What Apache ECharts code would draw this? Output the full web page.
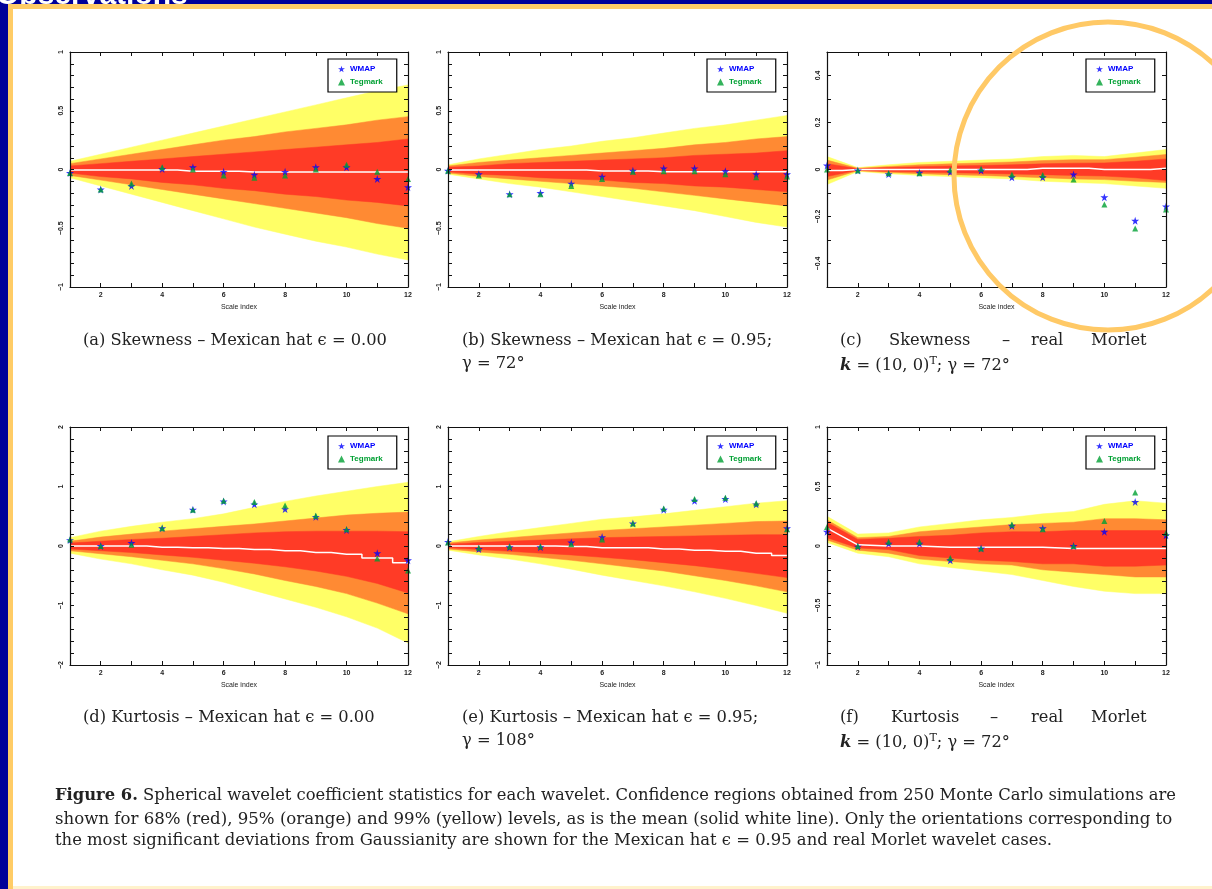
<!DOCTYPE html>
<html>
<head>
<meta charset="utf-8">
<title>Figure 6</title>
<script src="https://cdn.jsdelivr.net/npm/echarts@6/dist/echarts.min.js"></script>
<style>
  html, body { margin: 0; padding: 0; background: #000099; }
  #chart { width: 1212px; height: 889px; }
</style>
</head>
<body>
<div id="chart"></div>
<script>
// scale index (x axis of every panel)
const scaleIdx = [1, 2, 3, 4, 5, 6, 7, 8, 9, 10, 11, 12]

// (a) skewness - Mexican hat eps = 0.00
const aY99hi = [0.07, 0.13, 0.19, 0.25, 0.31, 0.37, 0.43, 0.49, 0.55, 0.61, 0.67, 0.72]
const aY99lo = [-0.07, -0.14, -0.21, -0.28, -0.35, -0.42, -0.49, -0.55, -0.61, -0.66, -0.72, -0.77]
const aO95hi = [0.05, 0.09, 0.13, 0.17, 0.21, 0.25, 0.28, 0.32, 0.35, 0.38, 0.42, 0.45]
const aO95lo = [-0.05, -0.09, -0.13, -0.17, -0.21, -0.25, -0.29, -0.33, -0.37, -0.41, -0.46, -0.5]
const aR68hi = [0.03, 0.05, 0.07, 0.09, 0.11, 0.13, 0.15, 0.17, 0.19, 0.21, 0.23, 0.26]
const aR68lo = [-0.03, -0.06, -0.08, -0.11, -0.13, -0.16, -0.18, -0.21, -0.23, -0.26, -0.28, -0.31]
const aMean = [-0.005, -0.005, -0.005, -0.005, -0.015, -0.015, -0.022, -0.022, -0.022, -0.022, -0.022, -0.022]
const aWmap = [-0.03, -0.17, -0.14, 0.005, 0.02, -0.02, -0.045, -0.02, 0.02, 0.02, -0.08, -0.15]
const aTeg = [-0.03, -0.17, -0.12, 0.02, 0.0, -0.05, -0.07, -0.05, 0.0, 0.04, -0.02, -0.08]

// (b) skewness - Mexican hat eps = 0.95, gamma = 72
const bY99hi = [0.04, 0.09, 0.13, 0.17, 0.2, 0.24, 0.27, 0.31, 0.35, 0.38, 0.42, 0.46]
const bY99lo = [-0.04, -0.08, -0.12, -0.15, -0.19, -0.23, -0.27, -0.31, -0.35, -0.4, -0.45, -0.49]
const bO95hi = [0.03, 0.06, 0.08, 0.1, 0.12, 0.14, 0.16, 0.18, 0.21, 0.23, 0.26, 0.28]
const bO95lo = [-0.03, -0.06, -0.08, -0.1, -0.12, -0.14, -0.16, -0.19, -0.22, -0.25, -0.28, -0.31]
const bR68hi = [0.02, 0.03, 0.05, 0.06, 0.07, 0.08, 0.09, 0.1, 0.12, 0.13, 0.14, 0.16]
const bR68lo = [-0.02, -0.04, -0.05, -0.07, -0.08, -0.09, -0.11, -0.12, -0.14, -0.15, -0.17, -0.19]
const bMean = [-0.005, -0.005, -0.005, -0.005, -0.005, -0.012, -0.012, -0.02, -0.02, -0.02, -0.02, -0.02]
const bWmap = [-0.01, -0.04, -0.21, -0.2, -0.12, -0.06, -0.01, 0.01, 0.01, -0.015, -0.04, -0.04]
const bTeg = [-0.01, -0.05, -0.21, -0.21, -0.14, -0.08, -0.02, -0.015, -0.015, -0.04, -0.065, -0.06]

// (c) skewness - real Morlet k = (10,0), gamma = 72
const cY99hi = [0.055, 0.008, 0.02, 0.03, 0.035, 0.04, 0.045, 0.055, 0.06, 0.055, 0.07, 0.085]
const cY99lo = [-0.064, -0.008, -0.018, -0.025, -0.03, -0.035, -0.04, -0.05, -0.055, -0.06, -0.07, -0.08]
const cO95hi = [0.04, 0.005, 0.013, 0.02, 0.024, 0.028, 0.032, 0.038, 0.042, 0.042, 0.052, 0.064]
const cO95lo = [-0.045, -0.005, -0.013, -0.018, -0.022, -0.025, -0.03, -0.035, -0.04, -0.043, -0.05, -0.055]
const cR68hi = [0.025, 0.003, 0.008, 0.012, 0.015, 0.017, 0.02, 0.024, 0.027, 0.028, 0.035, 0.045]
const cR68lo = [-0.03, -0.003, -0.008, -0.011, -0.014, -0.016, -0.019, -0.022, -0.025, -0.028, -0.035, -0.047]
const cMean = [-0.004, 0, 0, 0, 0, 0, 0, 0.005, 0.005, 0, 0, 0.005]
const cWmap = [0.017, -0.004, -0.02, -0.014, -0.011, -0.004, -0.033, -0.033, -0.021, -0.118, -0.218, -0.157]
const cTeg = [0.0, -0.004, -0.016, -0.016, -0.001, 0.003, -0.021, -0.023, -0.043, -0.149, -0.251, -0.17]

// (d) kurtosis - Mexican hat eps = 0.00
const dY99hi = [0.14, 0.25, 0.33, 0.4, 0.46, 0.54, 0.65, 0.75, 0.84, 0.92, 1.0, 1.07]
const dY99lo = [-0.12, -0.22, -0.3, -0.4, -0.49, -0.61, -0.75, -0.89, -1.03, -1.19, -1.38, -1.63]
const dO95hi = [0.08, 0.15, 0.2, 0.25, 0.29, 0.33, 0.37, 0.42, 0.47, 0.52, 0.55, 0.57]
const dO95lo = [-0.08, -0.13, -0.18, -0.24, -0.3, -0.38, -0.47, -0.58, -0.68, -0.8, -0.96, -1.14]
const dR68hi = [0.05, 0.08, 0.11, 0.13, 0.16, 0.19, 0.22, 0.24, 0.25, 0.25, 0.25, 0.24]
const dR68lo = [-0.05, -0.08, -0.11, -0.15, -0.19, -0.24, -0.29, -0.35, -0.42, -0.51, -0.63, -0.79]
const dMean = [0, 0, 0, -0.02, -0.03, -0.04, -0.06, -0.08, -0.11, -0.14, -0.2, -0.28]
const dWmap = [0.1, 0.0, 0.05, 0.3, 0.61, 0.75, 0.7, 0.62, 0.49, 0.27, -0.12, -0.24]
const dTeg = [0.11, 0.0, 0.02, 0.3, 0.61, 0.76, 0.74, 0.68, 0.51, 0.28, -0.21, -0.41]

// (e) kurtosis - Mexican hat eps = 0.95, gamma = 108
const eY99hi = [0.07, 0.16, 0.24, 0.31, 0.38, 0.45, 0.49, 0.54, 0.6, 0.66, 0.72, 0.76]
const eY99lo = [-0.07, -0.15, -0.22, -0.3, -0.39, -0.49, -0.58, -0.67, -0.77, -0.88, -1.0, -1.13]
const eO95hi = [0.05, 0.1, 0.14, 0.18, 0.22, 0.26, 0.29, 0.32, 0.35, 0.38, 0.41, 0.42]
const eO95lo = [-0.05, -0.1, -0.14, -0.19, -0.24, -0.3, -0.36, -0.42, -0.5, -0.58, -0.67, -0.77]
const eR68hi = [0.03, 0.06, 0.08, 0.1, 0.12, 0.14, 0.15, 0.16, 0.17, 0.18, 0.19, 0.19]
const eR68lo = [-0.03, -0.06, -0.09, -0.12, -0.15, -0.19, -0.23, -0.28, -0.33, -0.39, -0.46, -0.53]
const eMean = [0, 0, 0, 0, -0.01, -0.03, -0.03, -0.05, -0.07, -0.09, -0.12, -0.16]
const eWmap = [0.07, -0.05, -0.02, -0.02, 0.06, 0.15, 0.38, 0.61, 0.76, 0.79, 0.7, 0.3]
const eTeg = [0.06, -0.03, -0.01, -0.01, 0.03, 0.11, 0.38, 0.63, 0.79, 0.81, 0.72, 0.28]

// (f) kurtosis - real Morlet k = (10,0), gamma = 72
const fY99hi = [0.25, 0.1, 0.11, 0.16, 0.19, 0.22, 0.24, 0.27, 0.29, 0.35, 0.38, 0.36]
const fY99lo = [0.03, -0.06, -0.09, -0.15, -0.18, -0.21, -0.24, -0.29, -0.34, -0.38, -0.4, -0.4]
const fO95hi = [0.22, 0.07, 0.08, 0.12, 0.14, 0.16, 0.18, 0.19, 0.2, 0.23, 0.23, 0.22]
const fO95lo = [0.05, -0.035, -0.06, -0.11, -0.13, -0.15, -0.16, -0.2, -0.22, -0.24, -0.26, -0.26]
const fR68hi = [0.2, 0.055, 0.065, 0.08, 0.09, 0.11, 0.12, 0.12, 0.13, 0.13, 0.13, 0.13]
const fR68lo = [0.07, -0.017, -0.03, -0.08, -0.1, -0.12, -0.13, -0.15, -0.15, -0.17, -0.17, -0.16]
const fMean = [0.15, 0.01, 0.0, 0.0, -0.01, -0.01, -0.01, -0.01, -0.02, -0.02, -0.02, -0.02]
const fWmap = [0.12, -0.005, 0.02, 0.02, -0.12, -0.02, 0.17, 0.15, 0.0, 0.12, 0.37, 0.09]
const fTeg = [0.16, 0.0, 0.035, 0.035, -0.1, -0.02, 0.18, 0.14, 0.0, 0.21, 0.45, 0.11]

const panels = [
  { left: 70, top: 52, width: 338, height: 235, yMin: -1, yMax: 1, tick: 0.1, labelStep: 0.5, step: 'middle',
    bands: [[aY99lo, aY99hi], [aO95lo, aO95hi], [aR68lo, aR68hi]], mean: aMean, wmap: aWmap, teg: aTeg },
  { left: 448, top: 52, width: 339, height: 235, yMin: -1, yMax: 1, tick: 0.1, labelStep: 0.5, step: 'middle',
    bands: [[bY99lo, bY99hi], [bO95lo, bO95hi], [bR68lo, bR68hi]], mean: bMean, wmap: bWmap, teg: bTeg },
  { left: 827, top: 52, width: 339, height: 235, yMin: -0.5, yMax: 0.5, tick: 0.1, labelStep: 0.2, step: 'middle',
    bands: [[cY99lo, cY99hi], [cO95lo, cO95hi], [cR68lo, cR68hi]], mean: cMean, wmap: cWmap, teg: cTeg },
  { left: 70, top: 427, width: 338, height: 238, yMin: -2, yMax: 2, tick: 0.2, labelStep: 1, step: 'middle',
    bands: [[dY99lo, dY99hi], [dO95lo, dO95hi], [dR68lo, dR68hi]], mean: dMean, wmap: dWmap, teg: dTeg },
  { left: 448, top: 427, width: 339, height: 238, yMin: -2, yMax: 2, tick: 0.2, labelStep: 1, step: 'middle',
    bands: [[eY99lo, eY99hi], [eO95lo, eO95hi], [eR68lo, eR68hi]], mean: eMean, wmap: eWmap, teg: eTeg },
  { left: 827, top: 427, width: 339, height: 238, yMin: -1, yMax: 1, tick: 0.1, labelStep: 0.5, step: false,
    bands: [[fY99lo, fY99hi], [fO95lo, fO95hi], [fR68lo, fR68hi]], mean: fMean, wmap: fWmap, teg: fTeg }
]

const bandColors = ['#ffff66', '#ff8a33', '#ff3b26']
const starPath = 'path://M50,0 L61,35 L98,35 L68,57 L79,91 L50,70 L21,91 L32,57 L2,35 L39,35 Z'
const tickFont = { fontSize: 7, fontWeight: 'bold', color: '#222', fontFamily: 'Liberation Sans' }

const grid = []
const xAxis = []
const yAxis = []
const series = []
const legend = []

// one polygon per confidence band: upper edge forward, lower edge back
function bandSeries (xi, yi, lo, hi, color) {
  return {
    type: 'custom', xAxisIndex: xi, yAxisIndex: yi, silent: true, clip: true, z: 2,
    data: scaleIdx.map((x, j) => [x, lo[j], hi[j]]),
    encode: { x: 0, y: [1, 2] },
    renderItem: (params, api) => {
      if (params.dataIndex !== 0) return null
      const pts = []
      scaleIdx.forEach((x, j) => pts.push(api.coord([x, hi[j]])))
      for (let j = scaleIdx.length - 1; j >= 0; j--) pts.push(api.coord([scaleIdx[j], lo[j]]))
      return { type: 'polygon', shape: { points: pts }, style: { fill: color, stroke: color, lineWidth: 0.5 } }
    }
  }
}

panels.forEach((p, i) => {
  grid.push({ left: p.left, top: p.top, width: p.width, height: p.height })
  const ax = { gridIndex: i, type: 'value', min: 1, max: 12, interval: 1, z: 6,
    axisLine: { show: true, onZero: false, lineStyle: { color: '#111', width: 1.2 } },
    axisTick: { show: true, inside: true, length: 4, lineStyle: { color: '#111' } },
    splitLine: { show: false } }
  xAxis.push(Object.assign({}, ax, {
    position: 'bottom',
    name: 'Scale index', nameLocation: 'middle', nameGap: 17,
    nameTextStyle: { fontSize: 7, color: '#222', fontFamily: 'Liberation Sans' },
    axisLabel: Object.assign({ margin: 5, formatter: (v) => (v % 2 === 0 ? String(v) : '') }, tickFont)
  }))
  xAxis.push(Object.assign({}, ax, { position: 'top', axisLabel: { show: false } }))

  const ay = { gridIndex: i, type: 'value', min: p.yMin, max: p.yMax, interval: p.tick, z: 6,
    axisLine: { show: true, onZero: false, lineStyle: { color: '#111', width: 1.2 } },
    axisTick: { show: true, inside: true, length: 4, lineStyle: { color: '#111' } },
    splitLine: { show: false } }
  yAxis.push(Object.assign({}, ay, {
    position: 'left',
    axisLabel: Object.assign({
      rotate: 90, margin: 5,
      formatter: (v) => {
        const k = v / p.labelStep
        if (Math.abs(k - Math.round(k)) > 1e-6) return ''
        const r = Math.round(v * 10) / 10
        return r < 0 ? '\u2212' + String(-r) : String(r)
      }
    }, tickFont)
  }))
  yAxis.push(Object.assign({}, ay, { position: 'right', axisLabel: { show: false } }))

  const xi = i * 2
  const yi = i * 2
  p.bands.forEach((b, k) => series.push(bandSeries(xi, yi, b[0], b[1], bandColors[k])))
  series.push({
    type: 'line', xAxisIndex: xi, yAxisIndex: yi, step: p.step,
    data: scaleIdx.map((x, j) => [x, p.mean[j]]),
    showSymbol: false, silent: true, lineStyle: { color: '#ffffff', width: 1.5 }, z: 3
  })
  series.push({
    name: 'WMAP', type: 'scatter', xAxisIndex: xi, yAxisIndex: yi,
    data: scaleIdx.map((x, j) => [x, p.wmap[j]]),
    symbol: starPath, symbolSize: 8, itemStyle: { color: '#0000ff' }, z: 4
  })
  series.push({
    name: 'Tegmark', type: 'scatter', xAxisIndex: xi, yAxisIndex: yi,
    data: scaleIdx.map((x, j) => [x, p.teg[j]]),
    symbol: 'triangle', symbolSize: 6, itemStyle: { color: '#00a033' }, z: 5
  })

  legend.push({
    left: p.left + p.width - 80, top: p.top + 7 + (i >= 3 ? 2 : 0), z: 8,
    orient: 'vertical', selectedMode: false,
    backgroundColor: '#fff', borderColor: '#000', borderWidth: 1.2, borderRadius: 0,
    padding: [6, 14, 6, 10], itemGap: 5, itemWidth: 7, itemHeight: 7,
    textStyle: { fontSize: 8, fontFamily: 'Liberation Sans', fontWeight: 'bold' },
    data: [
      { name: 'WMAP', textStyle: { color: '#0000ff' } },
      { name: 'Tegmark', textStyle: { color: '#00a033' } }
    ]
  })
})

const capFont = 'DejaVu Serif'
function capRich (size) {
  return {
    t: { fontFamily: capFont, fontSize: size, color: '#222' },
    k: { fontFamily: capFont, fontSize: size, color: '#222', fontWeight: 'bold', fontStyle: 'italic' },
    sup: { fontFamily: capFont, fontSize: 11, color: '#222', padding: [0, 0, 9, 0] },
    b: { fontFamily: capFont, fontSize: size, color: '#222', fontWeight: 'bold' }
  }
}
function cap (x, y, text, size) {
  const s = size || 16.3
  return {
    type: 'text', left: x, top: y - 10, z: 10,
    style: { text: text, rich: capRich(s), font: s + 'px "DejaVu Serif"', fill: '#222' }
  }
}

const captions = [
  cap(83, 343, '{t|(a) Skewness \u2013 Mexican hat \u03f5 = 0.00}'),
  cap(462, 343, '{t|(b) Skewness \u2013 Mexican hat \u03f5 = 0.95;}'),
  cap(462, 366, '{t|\u03b3 = 72\u00b0}'),
  cap(840, 343, '{t|(c)}'), cap(889, 343, '{t|Skewness}'), cap(1002, 343, '{t|\u2013}'),
  cap(1031, 343, '{t|real}'), cap(1091, 343, '{t|Morlet}'),
  cap(840, 366, '{k|k}{t| = (10, 0)}{sup|T}{t|; \u03b3 = 72\u00b0}'),
  cap(83, 720, '{t|(d) Kurtosis \u2013 Mexican hat \u03f5 = 0.00}'),
  cap(462, 720, '{t|(e) Kurtosis \u2013 Mexican hat \u03f5 = 0.95;}'),
  cap(462, 743, '{t|\u03b3 = 108\u00b0}'),
  cap(840, 720, '{t|(f)}'), cap(891, 720, '{t|Kurtosis}'), cap(990, 720, '{t|\u2013}'),
  cap(1031, 720, '{t|real}'), cap(1091, 720, '{t|Morlet}'),
  cap(840, 743, '{k|k}{t| = (10, 0)}{sup|T}{t|; \u03b3 = 72\u00b0}'),
  cap(55, 798, '{b|Figure 6.}{t| Spherical wavelet coefficient statistics for each wavelet. Confidence regions obtained from 250 Monte Carlo simulations are}', 16.35),
  cap(55, 821, '{t|shown for 68% (red), 95% (orange) and 99% (yellow) levels, as is the mean (solid white line). Only the orientations corresponding to}', 16.6),
  cap(55, 843, '{t|the most significant deviations from Gaussianity are shown for the Mexican hat \u03f5 = 0.95 and real Morlet wavelet cases.}', 16.4)
]

// slide frame: blue background, cut-off white slide title, orange rim, white page
const frame = [
  { type: 'text', left: -4, top: -19, z: -3,
    style: { text: 'Observations', font: 'bold 30px "Liberation Sans"', fill: '#ffffff' } },
  { type: 'rect', left: 8, top: 4, z: -2, shape: { width: 1204, height: 885 }, style: { fill: '#ffcc66' } },
  { type: 'rect', left: 13, top: 9, z: -1, shape: { width: 1199, height: 877 }, style: { fill: '#ffffff' } },
  { type: 'rect', left: 13, top: 886, z: -1, shape: { width: 1199, height: 3 }, style: { fill: '#fff2cc' } }
]

const highlight = {
  type: 'circle', z: 100, silent: true,
  shape: { cx: 1108, cy: 176, r: 154 },
  style: { fill: 'none', stroke: '#ffc966', lineWidth: 5 }
}

const chart = echarts.init(document.getElementById('chart'))
chart.setOption({
  backgroundColor: '#000099',
  animation: false,
  grid: grid,
  xAxis: xAxis,
  yAxis: yAxis,
  legend: legend,
  series: series,
  graphic: frame.concat(captions, [highlight])
})
</script>
</body>
</html>
